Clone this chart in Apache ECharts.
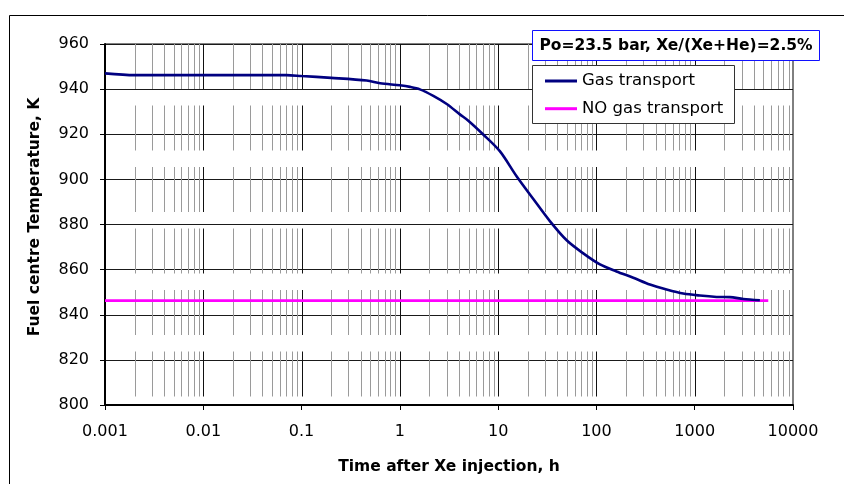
<!DOCTYPE html>
<html>
<head>
<meta charset="utf-8">
<script src="https://cdn.jsdelivr.net/npm/echarts@6/dist/echarts.min.js"></script>
<style>html,body{margin:0;padding:0;background:#fff;}#chart{width:844px;height:484px;}</style>
</head>
<body>
<div id="chart"></div>
<script>
// ---- data ----
const gasTime = [0.001, 0.002, 0.005, 0.01, 0.03, 0.07, 0.1, 0.2, 0.46, 0.63, 1.0, 1.27, 1.6, 2.19, 3.0, 4.08, 4.97, 7.05, 10.4, 15.4, 22.8, 33.6, 49.8, 73.5, 108.6, 160, 237, 350, 517, 764, 1129, 1668, 2278, 3115, 4600];
const gasTemp = [947.0, 946.2, 946.2, 946.2, 946.2, 946.2, 945.8, 945.0, 943.8, 942.6, 941.7, 941.0, 939.9, 937.0, 933.4, 928.8, 926.0, 919.9, 912.5, 901.4, 891.3, 881.5, 873.0, 867.2, 862.3, 859.2, 856.4, 853.4, 851.2, 849.4, 848.5, 847.9, 847.8, 847.0, 846.4];
const noGasTime = [0.001, 5600];
const noGasTemp = [846.3, 846.3];
const xTickLabels = ['0.001', '0.01', '0.1', '1', '10', '100', '1000', '10000'];
const yTickLabels = ['800', '820', '840', '860', '880', '900', '920', '940', '960'];
const seriesNames = ['Gas transport', 'NO gas transport'];
const titleText = 'Po=23.5 bar, Xe/(Xe+He)=2.5%';
const xTitle = 'Time after Xe injection, h';
const yTitle = 'Fuel centre Temperature, K';

// vertical log gridline positions (decades and 2..9 multiples)
const decadeStarts = [0.001, 0.01, 0.1, 1, 10, 100, 1000];
const gridMults = [1, 2, 3, 4, 5, 6, 7, 8, 9];
const vGrid = [];
decadeStarts.forEach(d => gridMults.forEach(m => {
  const v = +(d * m).toPrecision(6);
  if (v > 0.001) vGrid.push([v, 800, m === 1 ? 1 : 0]);
}));

const FONT = '"DejaVu Sans", "Liberation Sans", Arial, sans-serif';
const chart = echarts.init(document.getElementById('chart'), null, {renderer: 'canvas'});
chart.setOption({
  animation: false,
  backgroundColor: '#fff',
  grid: {left: 105, top: 44, width: 688, height: 361, show: true, borderColor: '#000', borderWidth: 1, backgroundColor: 'transparent'},
  xAxis: {
    type: 'log', logBase: 10, min: 0.001, max: 10000,
    axisLine: {onZero: false, lineStyle: {color: '#000', width: 2}},
    axisTick: {show: true, length: 5, lineStyle: {color: '#000', width: 1}},
    axisLabel: {margin: 19, color: '#000', fontFamily: FONT, fontSize: 16,
      formatter: v => xTickLabels[Math.round(Math.log10(v)) + 3]},
    splitLine: {show: false}
  },
  yAxis: {
    type: 'value', min: 800, max: 960, interval: 20,
    axisLine: {show: true, onZero: false, lineStyle: {color: '#000', width: 2}},
    axisTick: {show: true, length: 5, lineStyle: {color: '#000', width: 1}},
    axisLabel: {margin: 16, color: '#000', fontFamily: FONT, fontSize: 16,
      formatter: v => yTickLabels[Math.round((v - 800) / 20)]},
    splitLine: {show: true, lineStyle: {color: '#1a1a1a', width: 1}}
  },
  legend: {
    data: seriesNames, orient: 'vertical', left: 545, top: 71, padding: 0,
    icon: 'rect', itemWidth: 32, itemHeight: 3, itemGap: 7.7, z: 110,
    textStyle: {fontFamily: FONT, fontSize: 16.5, color: '#000', lineHeight: 20}
  },
  series: [
    {
      type: 'custom', name: 'grid', z: 1, silent: true, clip: false,
      data: vGrid, encode: {x: 0, y: 1},
      renderItem: (params, api) => {
        const x = api.value(0);
        const top = api.coord([x, 960]);
        const bot = api.coord([x, 800]);
        const px = Math.round(top[0]) + 0.5;
        return {type: 'line', silent: true,
          shape: {x1: px, y1: top[1], x2: px, y2: bot[1]},
          style: {stroke: api.value(2) ? '#111' : '#9a9a9a', lineWidth: 1, lineDash: [45, 16.5]}};
      }
    },
    {
      type: 'line', name: seriesNames[0], z: 4, symbol: 'none', smooth: 0.3,
      data: gasTime.map((t, i) => [t, gasTemp[i]]),
      lineStyle: {color: '#000080', width: 2.6}, itemStyle: {color: '#000080'}
    },
    {
      type: 'line', name: seriesNames[1], z: 3, symbol: 'none',
      data: noGasTime.map((t, i) => [t, noGasTemp[i]]),
      lineStyle: {color: '#ff00ff', width: 2.8}, itemStyle: {color: '#ff00ff'}
    }
  ],
  graphic: [
    {type: 'rect', z: 120, silent: true, shape: {x: 9.5, y: 15.5, width: 900, height: 600},
      style: {fill: 'none', stroke: '#000', lineWidth: 1}},
    {type: 'rect', z: 100, silent: true, shape: {x: 532.5, y: 30.5, width: 287, height: 30},
      style: {fill: '#fff', stroke: '#1010ff', lineWidth: 1}},
    {type: 'text', z: 101, silent: true, x: 676, y: 45.5,
      style: {text: titleText, fill: '#000', font: 'bold 15.5px ' + FONT, align: 'center', verticalAlign: 'middle'}},
    {type: 'rect', z: 100, silent: true, shape: {x: 532.5, y: 65.5, width: 202, height: 58},
      style: {fill: '#fff', stroke: '#333', lineWidth: 1}},
    {type: 'text', z: 101, silent: true, x: 449, y: 467,
      style: {text: xTitle, fill: '#000', font: 'bold 15.5px ' + FONT, align: 'center', verticalAlign: 'middle'}},
    {type: 'text', z: 101, silent: true, x: 35, y: 217, rotation: Math.PI / 2,
      style: {text: yTitle, fill: '#000', font: 'bold 15.5px ' + FONT, align: 'center', verticalAlign: 'middle'}}
  ]
});
</script>
</body>
</html>
